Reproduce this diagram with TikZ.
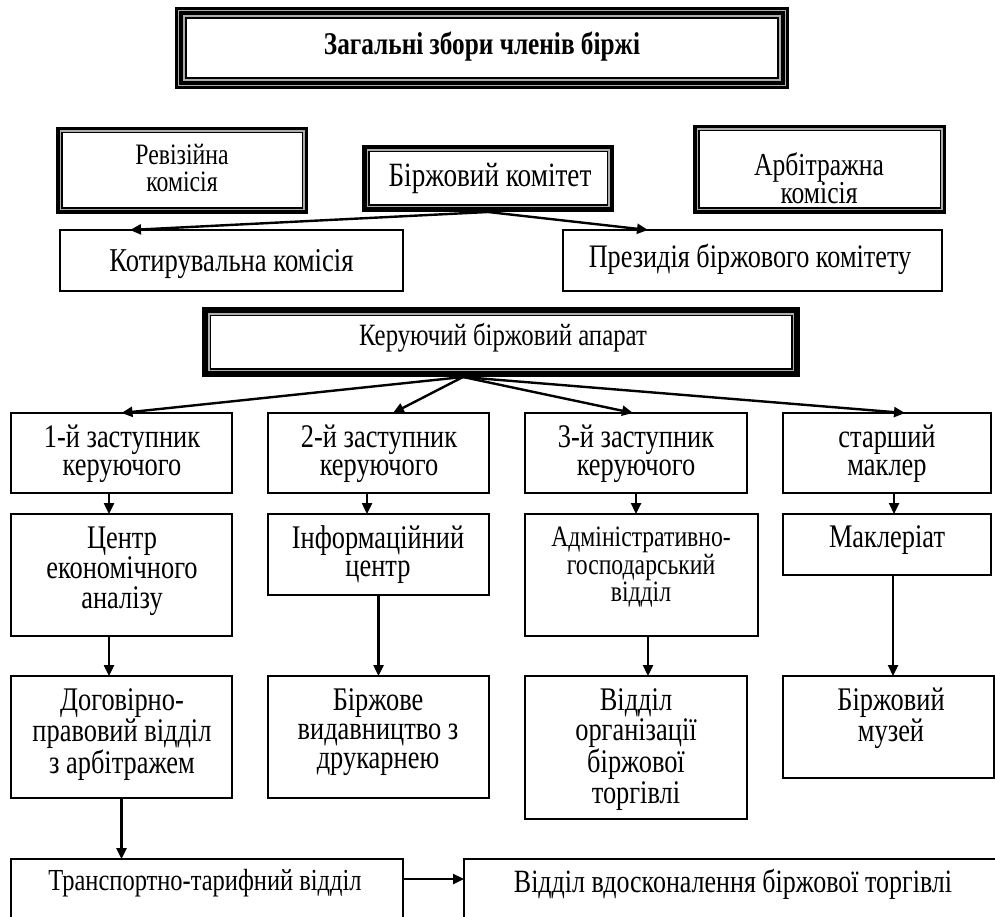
\documentclass[tikz,border=0pt]{standalone}
\usepackage{fontspec}
\setmainfont{Liberation Serif}[FakeStretch=0.8]
\usetikzlibrary{arrows.meta}
\definecolor{fgray}{gray}{0.68}
\newcommand{\ml}[1]{\begin{tabular}[t]{@{}c@{}}#1\end{tabular}}
\newcommand{\fsz}[2]{\fontsize{#1}{#2}\selectfont}
\newcommand{\layer}[3]{\fill[#3] ([shift={(#2pt,-#2pt)}]#1.north west) rectangle ([shift={(-#2pt,#2pt)}]#1.south east);}
\newcommand{\tripleframe}[1]{\layer{#1}{0}{black}\layer{#1}{3}{fgray}\layer{#1}{4.3}{black}\layer{#1}{8.3}{fgray}\layer{#1}{9.6}{black}\layer{#1}{11.6}{white}}
% name, gray start, inner black start, white start
\newcommand{\doubleframe}[4]{\layer{#1}{0}{black}\layer{#1}{#2}{fgray}\layer{#1}{#3}{black}\layer{#1}{#4}{white}}
\tikzset{
  box/.style={draw=black, line width=1.3pt, rectangle, anchor=north west, inner sep=0pt, outer sep=0pt},
  fr/.style={rectangle, anchor=north west, inner sep=0pt, outer sep=0pt},
  txt/.style={anchor=base, inner sep=0pt, align=center},
  arr/.style={line width=2.4pt, -{Triangle[length=11pt,width=10pt]}}
}
\begin{document}
\begin{tikzpicture}[x=1pt,y=-1pt]
\useasboundingbox (0,0) rectangle (995,917);
\clip (0,0) rectangle (995,917);

% framed boxes
\node[fr, minimum width=614pt, minimum height=82pt] (gen) at (175,7) {};
\tripleframe{gen}
\node[fr, minimum width=252pt, minimum height=87pt] (rev) at (56,127) {};
\doubleframe{rev}{3.5}{5}{6.5}
\node[fr, minimum width=252pt, minimum height=67pt] (kom) at (362,145) {};
\doubleframe{kom}{4.5}{6}{7.5}
\node[fr, minimum width=253pt, minimum height=89pt] (arb) at (693,125) {};
\doubleframe{arb}{3.5}{5}{6.5}
\node[fr, minimum width=598pt, minimum height=70pt] (ker) at (202,307) {};
\doubleframe{ker}{6}{7.5}{9}

% plain boxes
\node[box, minimum width=343pt, minimum height=61pt] (kot) at (60,230) {};
\node[box, minimum width=379pt, minimum height=61pt] (prez) at (563,230) {};
\node[box, minimum width=221pt, minimum height=80pt] (d1) at (11,413) {};
\node[box, minimum width=221pt, minimum height=80pt] (d2) at (268,413) {};
\node[box, minimum width=222pt, minimum height=80pt] (d3) at (525,413) {};
\node[box, minimum width=208pt, minimum height=80pt] (d4) at (783,413) {};
\node[box, minimum width=221pt, minimum height=122pt] (c1) at (11,514) {};
\node[box, minimum width=221pt, minimum height=81pt] (c2) at (268,514) {};
\node[box, minimum width=233pt, minimum height=122pt] (c3) at (525,514) {};
\node[box, minimum width=208pt, minimum height=61pt] (c4) at (783,514) {};
\node[box, minimum width=221pt, minimum height=122pt] (e1) at (11,676) {};
\node[box, minimum width=221pt, minimum height=122pt] (e2) at (268,676) {};
\node[box, minimum width=222pt, minimum height=143pt] (e3) at (525,676) {};
\node[box, minimum width=211pt, minimum height=102pt] (e4) at (783,676) {};
\node[box, minimum width=392pt, minimum height=100pt] (f1) at (11,859) {};
\node[box, minimum width=560pt, minimum height=100pt] (f2) at (464,859) {};

% texts
\node[txt, font=\bfseries\fsz{31.6}{30}] (tgen) at (482,55) {Загальні збори членів біржі};
\node[txt, font=\fsz{29.7}{24}] (trev) at (182,165) {\ml{Ревізійна\\комісія}};
\node[txt, font=\fsz{34}{28}] (tkom) at (490,187) {Біржовий комітет};
\node[txt, font=\fsz{32}{21}] (tarb) at (819,176) {\ml{Арбітражна\\комісія}};
\node[txt, font=\fsz{33.3}{28}] (tkot) at (231.5,271) {Котирувальна комісія};
\node[txt, font=\fsz{32.8}{28}] (tprez) at (750,268) {Президія біржового комітету};
\node[txt, font=\fsz{31}{28}] (tker) at (503,345) {Керуючий біржовий апарат};
\node[txt, font=\fsz{33}{28}] (td1) at (122,447) {\ml{1-й заступник\\керуючого}};
\node[txt, font=\fsz{33}{28}] (td2) at (379,447) {\ml{2-й заступник\\керуючого}};
\node[txt, font=\fsz{33}{28}] (td3) at (636,447) {\ml{3-й заступник\\керуючого}};
\node[txt, font=\fsz{33}{28}] (td4) at (887,447) {\ml{старший\\маклер}};
\node[txt, font=\fsz{33}{28}] (tc1) at (122,548) {\ml{Центр\\економічного\\аналізу}};
\node[txt, font=\fsz{33}{28}] (tc2) at (378,548) {\ml{Інформаційний\\центр}};
\node[txt, font=\fsz{29.6}{26}] (tc3) at (641,546) {\ml{Адміністративно-\\господарський\\відділ}};
\node[txt, font=\fsz{33}{28}] (tc4) at (887,547) {Маклеріат};
\node[txt, font=\fsz{33}{29}] (te1) at (122,710) {\ml{Договірно-\\правовий відділ\\з арбітражем}};
\node[txt, font=\fsz{33}{29}] (te2) at (378,710) {\ml{Біржове\\видавництво з\\друкарнею}};
\node[txt, font=\fsz{33}{29}] (te3) at (636,710) {\ml{Відділ\\організації\\біржової\\торгівлі}};
\node[txt, font=\fsz{33}{29}] (te4) at (891,710) {\ml{Біржовий\\музей}};
\node[txt, font=\fsz{30.6}{26}] (tf1) at (205,890) {Транспортно-тарифний відділ};
\node[txt, font=\fsz{32.5}{28}] (tf2) at (733,892) {Відділ вдосконалення біржової торгівлі};

% connectors
\draw[arr] (kom.south) -- ([xshift=-101.5pt]kot.north);
\draw[arr] (kom.south) -- ([xshift=-104.5pt]prez.north);
\draw[arr] ([xshift=-38pt]ker.south) -- (d1.north);
\draw[arr] ([xshift=-38pt]ker.south) -- ([xshift=14.5pt]d2.north);
\draw[arr] ([xshift=-38pt]ker.south) -- ([xshift=-3pt]d3.north);
\draw[arr] ([xshift=-38pt]ker.south) -- ([xshift=18pt]d4.north);
\draw[arr] ([xshift=-12.5pt]d1.south) -- ([xshift=-12.5pt]d1.south |- c1.north);
\draw[arr] ([xshift=-11.5pt]d2.south) -- ([xshift=-11.5pt]d2.south |- c2.north);
\draw[arr] (d3.south) -- (d3.south |- c3.north);
\draw[arr] ([xshift=7pt]d4.south) -- ([xshift=7pt]d4.south |- c4.north);
\draw[arr] ([xshift=-12.5pt]c1.south) -- ([xshift=-12.5pt]c1.south |- e1.north);
\draw[arr] (c2.south) -- (c2.south |- e2.north);
\draw[arr] ([xshift=6.5pt]c3.south) -- ([xshift=6.5pt]c3.south |- e3.north);
\draw[arr] ([xshift=6pt]c4.south) -- ([xshift=6pt]c4.south |- e4.north);
\draw[arr] (e1.south) -- (e1.south |- f1.north);
\draw[arr] ([yshift=-20pt]f1.north east) -- ([yshift=-20pt]f1.north east -| f2.west);
\end{tikzpicture}
\end{document}
